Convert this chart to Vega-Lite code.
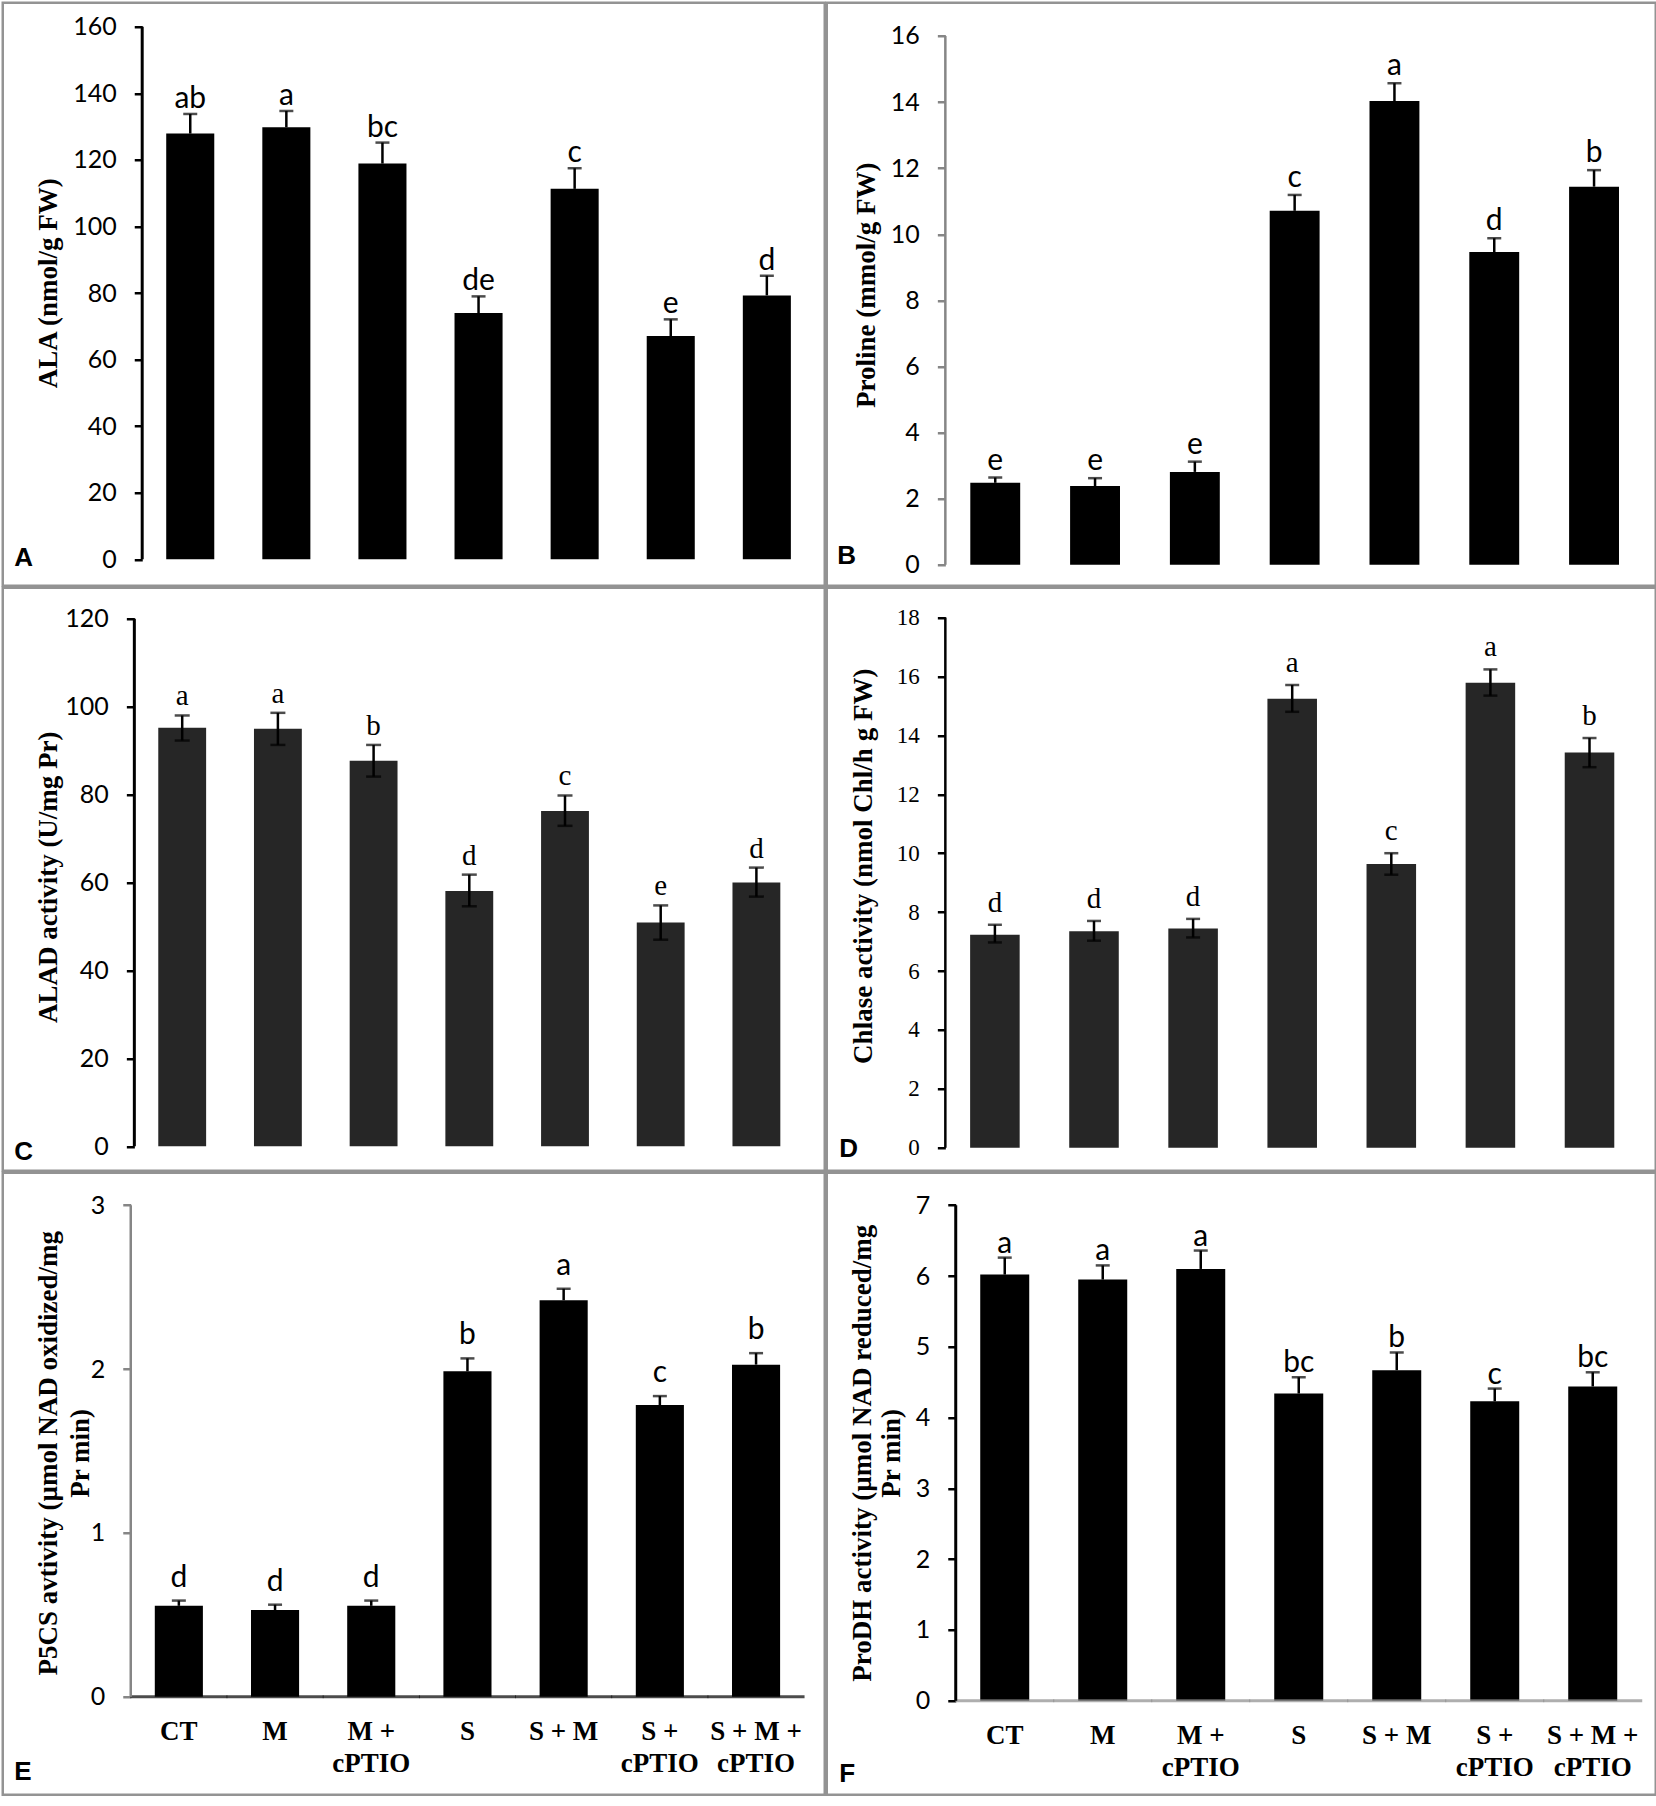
{
  "$schema": "https://vega.github.io/schema/vega-lite/v6.json",
  "padding": {"left": 0.75, "top": 0.75, "right": 1.75, "bottom": 14.75},
  "background": "white",
  "spacing": -2.5,
  "datasets": {
    "ala": [
      {"cat": "CT", "mean": 127.9, "hi": 133.8, "sig": "ab"},
      {"cat": "M", "mean": 129.8, "hi": 134.7, "sig": "a"},
      {"cat": "M + cPTIO", "mean": 118.9, "hi": 125.2, "sig": "bc"},
      {"cat": "S", "mean": 74.0, "hi": 79.0, "sig": "de"},
      {"cat": "S + M", "mean": 111.3, "hi": 117.5, "sig": "c"},
      {"cat": "S + cPTIO", "mean": 67.1, "hi": 72.1, "sig": "e"},
      {"cat": "S + M + cPTIO", "mean": 79.3, "hi": 85.2, "sig": "d"}
    ],
    "pro": [
      {"cat": "CT", "mean": 2.48, "hi": 2.64, "sig": "e"},
      {"cat": "M", "mean": 2.38, "hi": 2.62, "sig": "e"},
      {"cat": "M + cPTIO", "mean": 2.81, "hi": 3.12, "sig": "e"},
      {"cat": "S", "mean": 10.71, "hi": 11.19, "sig": "c"},
      {"cat": "S + M", "mean": 14.03, "hi": 14.57, "sig": "a"},
      {"cat": "S + cPTIO", "mean": 9.46, "hi": 9.88, "sig": "d"},
      {"cat": "S + M + cPTIO", "mean": 11.44, "hi": 11.94, "sig": "b"}
    ],
    "alad": [
      {"cat": "CT", "mean": 95.2, "lo": 92.3, "hi": 98.0, "sig": "a"},
      {"cat": "M", "mean": 95.0, "lo": 91.3, "hi": 98.6, "sig": "a"},
      {"cat": "M + cPTIO", "mean": 87.7, "lo": 84.1, "hi": 91.3, "sig": "b"},
      {"cat": "S", "mean": 58.1, "lo": 54.6, "hi": 61.8, "sig": "d"},
      {"cat": "S + M", "mean": 76.3, "lo": 72.9, "hi": 79.8, "sig": "c"},
      {"cat": "S + cPTIO", "mean": 50.9, "lo": 47.0, "hi": 54.8, "sig": "e"},
      {"cat": "S + M + cPTIO", "mean": 60.0, "lo": 56.8, "hi": 63.4, "sig": "d"}
    ],
    "chl": [
      {"cat": "CT", "mean": 7.23, "lo": 6.97, "hi": 7.57, "sig": "d"},
      {"cat": "M", "mean": 7.35, "lo": 7.03, "hi": 7.70, "sig": "d"},
      {"cat": "M + cPTIO", "mean": 7.44, "lo": 7.14, "hi": 7.77, "sig": "d"},
      {"cat": "S", "mean": 15.24, "lo": 14.80, "hi": 15.71, "sig": "a"},
      {"cat": "S + M", "mean": 9.63, "lo": 9.27, "hi": 10.0, "sig": "c"},
      {"cat": "S + cPTIO", "mean": 15.79, "lo": 15.35, "hi": 16.24, "sig": "a"},
      {"cat": "S + M + cPTIO", "mean": 13.42, "lo": 12.92, "hi": 13.91, "sig": "b"}
    ],
    "p5cs": [
      {"cat": "CT", "mean": 0.555, "hi": 0.587, "sig": "d"},
      {"cat": "M", "mean": 0.529, "hi": 0.562, "sig": "d"},
      {"cat": "M + cPTIO", "mean": 0.555, "hi": 0.587, "sig": "d"},
      {"cat": "S", "mean": 1.986, "hi": 2.065, "sig": "b"},
      {"cat": "S + M", "mean": 2.42, "hi": 2.49, "sig": "a"},
      {"cat": "S + cPTIO", "mean": 1.78, "hi": 1.835, "sig": "c"},
      {"cat": "S + M + cPTIO", "mean": 2.027, "hi": 2.097, "sig": "b"}
    ],
    "prodh": [
      {"cat": "CT", "mean": 6.02, "hi": 6.26, "sig": "a"},
      {"cat": "M", "mean": 5.95, "hi": 6.15, "sig": "a"},
      {"cat": "M + cPTIO", "mean": 6.10, "hi": 6.36, "sig": "a"},
      {"cat": "S", "mean": 4.34, "hi": 4.57, "sig": "bc"},
      {"cat": "S + M", "mean": 4.67, "hi": 4.92, "sig": "b"},
      {"cat": "S + cPTIO", "mean": 4.23, "hi": 4.41, "sig": "c"},
      {"cat": "S + M + cPTIO", "mean": 4.44, "hi": 4.64, "sig": "bc"}
    ]
  },
  "vconcat": [
    {
      "spacing": -2.5,
      "hconcat": [
        {
          "width": 822,
          "height": 583,
          "data": {"name": "ala"},
          "encoding": {
            "x": {"field": "cat", "type": "nominal", "sort": null,
                  "scale": {"paddingInner": 0, "paddingOuter": 0.7768, "align": 0.934},
                  "axis": {"offset": -30, "labels": false, "ticks": false, "domain": false,
                           "title": "A", "titleX": 11, "titleY": 10}}
          },
          "layer": [
            {
              "mark": {"type": "bar", "width": {"band": 0.5}, "color": "#000000"},
              "encoding": {
                "y": {"field": "mean", "type": "quantitative",
                      "scale": {"domain": [-7.93, 167.21], "nice": false, "zero": false},
                      "axis": {"offset": -139.5, "values": [0, 20, 40, 60, 80, 100, 120, 140, 160],
                               "domain": false, "tickColor": "#000000", "labelFont": "Lato", "labelFontSize": 25,
                               "title": "ALA (nmol/g FW)", "titleX": -93.5, "titleY": 280}}
              }
            },
            {
              "mark": {"type": "rule", "color": "#000000", "strokeWidth": 2.5},
              "encoding": {"y": {"field": "mean", "type": "quantitative"}, "y2": {"field": "hi"}}
            },
            {
              "mark": {"type": "tick", "orient": "horizontal", "size": 14, "thickness": 2.5, "color": "#000000"},
              "encoding": {"y": {"field": "hi", "type": "quantitative"}}
            },
            {
              "mark": {"type": "text", "baseline": "alphabetic", "dy": -6, "font": "Lato", "fontSize": 30, "color": "#000000"},
              "encoding": {"y": {"field": "hi", "type": "quantitative"}, "text": {"field": "sig"}}
            },
            {
              "transform": [{"filter": "datum.cat == 'CT'"}],
              "mark": {"type": "rule", "color": "#000000", "strokeWidth": 3},
              "encoding": {
                "x": {"field": "cat", "type": "nominal", "bandPosition": 0},
                "y": {"datum": 0},
                "y2": {"datum": 160}
              }
            }
          ]
        },
        {
          "width": 829,
          "height": 583,
          "data": {"name": "pro"},
          "encoding": {
            "x": {"field": "cat", "type": "nominal", "sort": null,
                  "scale": {"paddingInner": 0, "paddingOuter": 0.6533, "align": 0.9095},
                  "axis": {"offset": -30, "labels": false, "ticks": false, "domain": false,
                           "title": "B", "titleX": 10, "titleY": 8}}
          },
          "layer": [
            {
              "mark": {"type": "bar", "width": {"band": 0.5}, "color": "#000000"},
              "encoding": {
                "y": {"field": "mean", "type": "quantitative",
                      "scale": {"domain": [-0.635, 17.005], "nice": false, "zero": false},
                      "axis": {"offset": -118.6, "values": [0, 2, 4, 6, 8, 10, 12, 14, 16],
                               "domain": false, "tickColor": "#868686", "labelFont": "Lato", "labelFontSize": 25,
                               "title": "Proline (mmol/g FW)", "titleX": -78.6, "titleY": 282}}
              }
            },
            {
              "mark": {"type": "rule", "color": "#000000", "strokeWidth": 2.5},
              "encoding": {"y": {"field": "mean", "type": "quantitative"}, "y2": {"field": "hi"}}
            },
            {
              "mark": {"type": "tick", "orient": "horizontal", "size": 14, "thickness": 2.5, "color": "#000000"},
              "encoding": {"y": {"field": "hi", "type": "quantitative"}}
            },
            {
              "mark": {"type": "text", "baseline": "alphabetic", "dy": -8, "font": "Lato", "fontSize": 30, "color": "#000000"},
              "encoding": {"y": {"field": "hi", "type": "quantitative"}, "text": {"field": "sig"}}
            },
            {
              "transform": [{"filter": "datum.cat == 'CT'"}],
              "mark": {"type": "rule", "color": "#868686", "strokeWidth": 2.5},
              "encoding": {
                "x": {"field": "cat", "type": "nominal", "bandPosition": 0},
                "y": {"datum": 0},
                "y2": {"datum": 16}
              }
            }
          ]
        }
      ]
    },
    {
      "spacing": -2.5,
      "hconcat": [
        {
          "width": 822,
          "height": 583,
          "data": {"name": "alad"},
          "encoding": {
            "x": {"field": "cat", "type": "nominal", "sort": null,
                  "scale": {"paddingInner": 0, "paddingOuter": 0.7947, "align": 0.8652},
                  "axis": {"offset": -30, "labels": false, "ticks": false, "domain": false,
                           "title": "C", "titleX": 11, "titleY": 19}}
          },
          "layer": [
            {
              "mark": {"type": "bar", "width": {"band": 0.5}, "color": "#262626"},
              "encoding": {
                "y": {"field": "mean", "type": "quantitative",
                      "scale": {"domain": [-5.55, 127.05], "nice": false, "zero": false},
                      "axis": {"offset": -131.6, "values": [0, 20, 40, 60, 80, 100, 120],
                               "domain": false, "tickColor": "#000000", "labelFont": "Lato", "labelFontSize": 25,
                               "title": "ALAD activity (U/mg Pr)", "titleX": -86.1, "titleY": 289}}
              }
            },
            {
              "mark": {"type": "rule", "color": "#000000", "strokeWidth": 2.5},
              "encoding": {"y": {"field": "lo", "type": "quantitative"}, "y2": {"field": "hi"}}
            },
            {
              "mark": {"type": "tick", "orient": "horizontal", "size": 15, "thickness": 2.5, "color": "#000000"},
              "encoding": {"y": {"field": "hi", "type": "quantitative"}}
            },
            {
              "mark": {"type": "tick", "orient": "horizontal", "size": 15, "thickness": 2.5, "color": "#000000"},
              "encoding": {"y": {"field": "lo", "type": "quantitative"}}
            },
            {
              "mark": {"type": "text", "baseline": "alphabetic", "dy": -10, "font": "Liberation Serif", "fontSize": 29, "color": "#000000"},
              "encoding": {"y": {"field": "hi", "type": "quantitative"}, "text": {"field": "sig"}}
            },
            {
              "transform": [{"filter": "datum.cat == 'CT'"}],
              "mark": {"type": "rule", "color": "#000000", "strokeWidth": 3},
              "encoding": {
                "x": {"field": "cat", "type": "nominal", "bandPosition": 0},
                "y": {"datum": 0},
                "y2": {"datum": 120}
              }
            }
          ]
        },
        {
          "width": 829,
          "height": 583,
          "data": {"name": "chl"},
          "encoding": {
            "x": {"field": "cat", "type": "nominal", "sort": null,
                  "scale": {"paddingInner": 0, "paddingOuter": 0.6826, "align": 0.8766},
                  "axis": {"offset": -30, "labels": false, "ticks": false, "domain": false,
                           "title": "D", "titleX": 12, "titleY": 16}}
          },
          "layer": [
            {
              "mark": {"type": "bar", "width": {"band": 0.5}, "color": "#262626"},
              "encoding": {
                "y": {"field": "mean", "type": "quantitative",
                      "scale": {"domain": [-0.781, 19.012], "nice": false, "zero": false},
                      "axis": {"offset": -118.6, "values": [0, 2, 4, 6, 8, 10, 12, 14, 16, 18],
                               "domain": false, "tickColor": "#000000", "labelFont": "Liberation Serif", "labelFontSize": 23,
                               "title": "Chlase activity (nmol Chl/h g FW)", "titleX": -81.6, "titleY": 278}}
              }
            },
            {
              "mark": {"type": "rule", "color": "#000000", "strokeWidth": 2.5},
              "encoding": {"y": {"field": "lo", "type": "quantitative"}, "y2": {"field": "hi"}}
            },
            {
              "mark": {"type": "tick", "orient": "horizontal", "size": 14, "thickness": 2.5, "color": "#000000"},
              "encoding": {"y": {"field": "hi", "type": "quantitative"}}
            },
            {
              "mark": {"type": "tick", "orient": "horizontal", "size": 14, "thickness": 2.5, "color": "#000000"},
              "encoding": {"y": {"field": "lo", "type": "quantitative"}}
            },
            {
              "mark": {"type": "text", "baseline": "alphabetic", "dy": -13, "font": "Liberation Serif", "fontSize": 29, "color": "#000000"},
              "encoding": {"y": {"field": "hi", "type": "quantitative"}, "text": {"field": "sig"}}
            },
            {
              "transform": [{"filter": "datum.cat == 'CT'"}],
              "mark": {"type": "rule", "color": "#000000", "strokeWidth": 2.5},
              "encoding": {
                "x": {"field": "cat", "type": "nominal", "bandPosition": 0},
                "y": {"datum": 0},
                "y2": {"datum": 18}
              }
            }
          ]
        }
      ]
    },
    {
      "spacing": -2.5,
      "hconcat": [
        {
          "width": 822,
          "height": 622,
          "data": {"name": "p5cs"},
          "encoding": {
            "x": {"field": "cat", "type": "nominal", "sort": null,
                  "scale": {"paddingInner": 0, "paddingOuter": 0.7723, "align": 0.8614},
                  "axis": {"offset": -98, "ticks": false, "domain": false, "labelAngle": 0,
                           "labelPadding": 22, "labelFont": "Liberation Serif", "labelFontWeight": "bold",
                           "labelFontSize": 27, "labelLineHeight": 32, "labelColor": "#000000", "labelLimit": 0,
                           "labelOverlap": false,
                           "labelExpr": "split(replace(datum.label, ' cPTIO', '|cPTIO'), '|')",
                           "title": "E", "titleX": 11, "titleY": 83}}
          },
          "layer": [
            {
              "mark": {"type": "bar", "width": {"band": 0.5}, "color": "#000000"},
              "encoding": {
                "y": {"field": "mean", "type": "quantitative",
                      "scale": {"domain": [-0.598, 3.198], "nice": false, "zero": false},
                      "axis": {"offset": -128, "values": [0, 1, 2, 3], "format": "d",
                               "domain": false, "tickColor": "#868686", "labelFont": "Lato", "labelFontSize": 25,
                               "title": ["P5CS avtivity (µmol NAD oxidized/mg", "Pr min)"],
                               "titleLineHeight": 32, "titleX": -82, "titleY": 280}}
              }
            },
            {
              "mark": {"type": "rule", "color": "#000000", "strokeWidth": 2.5},
              "encoding": {"y": {"field": "mean", "type": "quantitative"}, "y2": {"field": "hi"}}
            },
            {
              "mark": {"type": "tick", "orient": "horizontal", "size": 14, "thickness": 2.5, "color": "#000000"},
              "encoding": {"y": {"field": "hi", "type": "quantitative"}}
            },
            {
              "mark": {"type": "text", "baseline": "alphabetic", "dy": -14, "font": "Lato", "fontSize": 30, "color": "#000000"},
              "encoding": {"y": {"field": "hi", "type": "quantitative"}, "text": {"field": "sig"}}
            },
            {
              "mark": {"type": "tick", "orient": "horizontal", "size": 97, "thickness": 3, "color": "#000000"},
              "encoding": {"y": {"datum": 0}}
            },
            {
              "transform": [{"filter": "datum.cat == 'CT'"}],
              "mark": {"type": "rule", "color": "#868686", "strokeWidth": 2.5},
              "encoding": {
                "x": {"field": "cat", "type": "nominal", "bandPosition": 0},
                "y": {"datum": 0},
                "y2": {"datum": 3}
              }
            }
          ]
        },
        {
          "width": 829,
          "height": 622,
          "data": {"name": "prodh"},
          "encoding": {
            "x": {"field": "cat", "type": "nominal", "sort": null,
                  "scale": {"paddingInner": 0, "paddingOuter": 0.7296, "align": 0.902},
                  "axis": {"offset": -94, "ticks": false, "domain": false, "labelAngle": 0,
                           "labelPadding": 22, "labelFont": "Liberation Serif", "labelFontWeight": "bold",
                           "labelFontSize": 27, "labelLineHeight": 32, "labelColor": "#000000", "labelLimit": 0,
                           "labelOverlap": false,
                           "labelExpr": "split(replace(datum.label, ' cPTIO', '|cPTIO'), '|')",
                           "title": "F", "titleX": 12, "titleY": 81}}
          },
          "layer": [
            {
              "mark": {"type": "bar", "width": {"band": 0.5}, "color": "#000000"},
              "encoding": {
                "y": {"field": "mean", "type": "quantitative",
                      "scale": {"domain": [-1.328, 7.459], "nice": false, "zero": false},
                      "axis": {"offset": -129, "values": [0, 1, 2, 3, 4, 5, 6, 7], "format": "d",
                               "domain": false, "tickColor": "#000000", "labelFont": "Lato", "labelFontSize": 25,
                               "title": ["ProDH activity (µmol NAD reduced/mg", "Pr min)"],
                               "titleLineHeight": 29, "titleX": -93, "titleY": 280}}
              }
            },
            {
              "mark": {"type": "rule", "color": "#000000", "strokeWidth": 2.5},
              "encoding": {"y": {"field": "mean", "type": "quantitative"}, "y2": {"field": "hi"}}
            },
            {
              "mark": {"type": "tick", "orient": "horizontal", "size": 14, "thickness": 2.5, "color": "#000000"},
              "encoding": {"y": {"field": "hi", "type": "quantitative"}}
            },
            {
              "mark": {"type": "text", "baseline": "alphabetic", "dy": -5, "font": "Lato", "fontSize": 30, "color": "#000000"},
              "encoding": {"y": {"field": "hi", "type": "quantitative"}, "text": {"field": "sig"}}
            },
            {
              "mark": {"type": "tick", "orient": "horizontal", "size": 99, "thickness": 3, "color": "#8c8c8c"},
              "encoding": {"y": {"datum": 0}}
            },
            {
              "transform": [{"filter": "datum.cat == 'CT'"}],
              "mark": {"type": "rule", "color": "#000000", "strokeWidth": 3},
              "encoding": {
                "x": {"field": "cat", "type": "nominal", "bandPosition": 0},
                "y": {"datum": 0},
                "y2": {"datum": 7}
              }
            }
          ]
        }
      ]
    }
  ],
  "config": {
    "view": {"stroke": "#939393", "strokeWidth": 2.5},
    "axis": {"grid": false},
    "axisX": {
      "titleFont": "Liberation Sans",
      "titleFontSize": 26,
      "titleFontWeight": "bold",
      "titleColor": "#000000",
      "titleAlign": "left",
      "titleAnchor": "start",
      "titleBaseline": "alphabetic",
      "titleAngle": 0,
      "titlePadding": 0
    },
    "axisY": {
      "tickSize": 8,
      "tickWidth": 2.5,
      "labelPadding": 18,
      "labelColor": "#000000",
      "labelFlush": false,
      "labelOverlap": false,
      "titleFont": "Liberation Serif",
      "titleFontSize": 27,
      "titleFontWeight": "bold",
      "titleColor": "#000000",
      "titleAngle": -90,
      "titleAlign": "center",
      "titleBaseline": "middle"
    }
  }
}
